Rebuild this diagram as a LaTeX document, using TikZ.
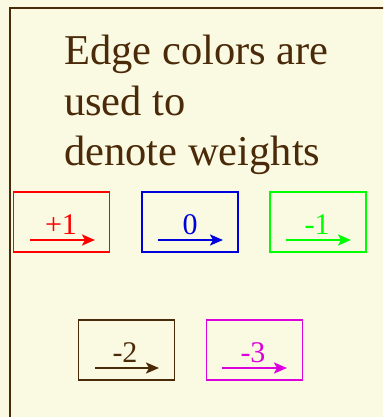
\documentclass[tikz,border=0pt]{standalone}
\usepackage{fontspec}
\setmainfont{Liberation Serif}
\usetikzlibrary{arrows.meta}
\definecolor{bg}{HTML}{FAF9E2}
\definecolor{frame}{HTML}{4A2A08}
\definecolor{wred}{HTML}{FF0000}
\definecolor{wblue}{HTML}{0000DD}
\definecolor{wgreen}{HTML}{00FF00}
\definecolor{wbrown}{HTML}{4A2A08}
\definecolor{wmag}{HTML}{DD00DD}
\tikzset{
  wbox/.style={draw=#1, line width=1.8pt, minimum width=96pt, minimum height=60pt, inner sep=0pt},
  wlabel/.style={text=#1, anchor=base, inner sep=0pt, font=\fontsize{30}{30}\selectfont},
  warrow/.style={draw=#1, line width=2.2pt, -{Stealth[length=13pt,width=11pt,inset=3pt]}},
  title/.style={text=frame, anchor=base west, inner sep=0pt, font=\fontsize{42.5}{50}\selectfont}
}
\begin{document}
\begin{tikzpicture}[x=1pt,y=-1pt]
\useasboundingbox (0,0) rectangle (383,417);
\fill[bg] (0,0) rectangle (383,417);
\begin{scope}
\clip (0,0) rectangle (383,417);
\draw[frame, line width=2.6pt] (10,430) -- (10,8) -- (400,8);
\end{scope}
\node[title] (t1) at (64,65) {Edge colors are};
\node[title] (t2) at (64,115) {used to};
\node[title] (t3) at (64,165) {denote weights};
% row 1
\node[wbox=wred] (b1) at (61.5,222) {};
\node[wbox=wblue] (b2) at (190,222) {};
\node[wbox=wgreen] (b3) at (318,222) {};
\node[wlabel=wred] (l1) at (61,234) {+1};
\node[wlabel=wblue] (l2) at (190,234) {0};
\node[wlabel=wgreen] (l3) at (317,234) {-1};
\coordinate (a1s) at (30,240); \coordinate (a1e) at (95,240);
\coordinate (a2s) at (158,240); \coordinate (a2e) at (223,240);
\coordinate (a3s) at (286,240); \coordinate (a3e) at (351,240);
\draw[warrow=wred] (a1s) -- (a1e);
\draw[warrow=wblue] (a2s) -- (a2e);
\draw[warrow=wgreen] (a3s) -- (a3e);
% row 2
\node[wbox=wbrown] (b4) at (126.5,350) {};
\node[wbox=wmag] (b5) at (254.5,350) {};
\node[wlabel=wbrown] (l4) at (125,362) {-2};
\node[wlabel=wmag] (l5) at (253,362) {-3};
\coordinate (a4s) at (95,368); \coordinate (a4e) at (159,368);
\coordinate (a5s) at (222,368); \coordinate (a5e) at (287,368);
\draw[warrow=wbrown] (a4s) -- (a4e);
\draw[warrow=wmag] (a5s) -- (a5e);
\end{tikzpicture}
\end{document}
